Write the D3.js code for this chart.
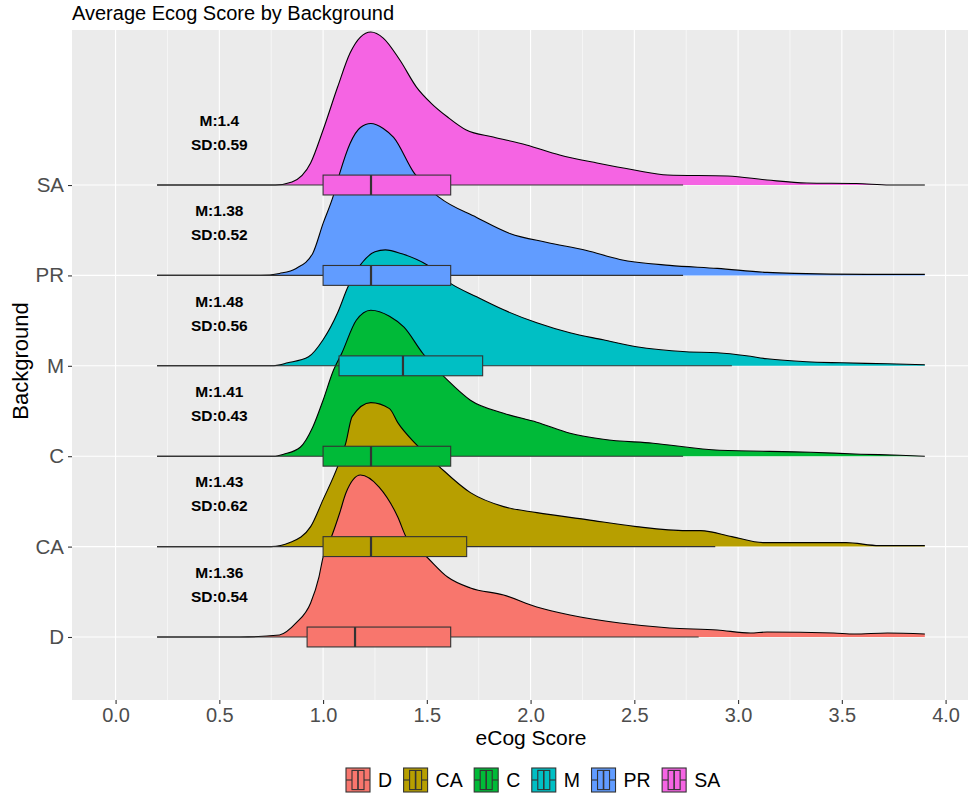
<!DOCTYPE html>
<html>
<head>
<meta charset="utf-8">
<script src="https://cdn.jsdelivr.net/npm/d3@7"></script>
<style>
  body { margin: 0; background: #ffffff; }
  text { font-family: "Liberation Sans", Arial, sans-serif; }
</style>
</head>
<body>
<svg id="chart" width="977" height="796"></svg>
<script>
// Groups, bottom row first
const categories = ["D", "CA", "C", "M", "PR", "SA"];
const fillColors = ["#F8766D", "#B79F00", "#00BA38", "#00BFC4", "#619CFF", "#F564E3"];
const meanLabels = ["M:1.36", "M:1.43", "M:1.41", "M:1.48", "M:1.38", "M:1.4"];
const sdLabels = ["SD:0.54", "SD:0.62", "SD:0.43", "SD:0.56", "SD:0.52", "SD:0.59"];

// Boxplot statistics
const boxQ1 = [0.923, 1.0, 1.0, 1.077, 1.0, 1.0];
const boxMedian = [1.154, 1.231, 1.231, 1.385, 1.231, 1.231];
const boxQ3 = [1.615, 1.692, 1.615, 1.769, 1.615, 1.615];
const whiskerLow = [0.2, 0.2, 0.2, 0.2, 0.2, 0.2];
const whiskerHigh = [2.81, 2.89, 2.735, 2.97, 2.735, 2.735];

// Density estimates (score grid, density)
const gridD = [0.2, 0.6, 0.79, 0.87, 0.94, 0.98, 1.0, 1.04, 1.08, 1.11, 1.18, 1.27, 1.36, 1.4, 1.5, 1.6, 1.71, 1.87, 2.03, 2.19, 2.43, 2.67, 2.9, 3.06, 3.14, 3.46, 3.56, 3.72, 3.9];
const densD = [0, 0, 0.02, 0.14, 0.34, 0.6, 0.8, 1.0, 1.24, 1.44, 1.62, 1.5, 1.2, 1.0, 0.8, 0.6, 0.49, 0.42, 0.3, 0.22, 0.14, 0.09, 0.07, 0.04, 0.05, 0.04, 0.03, 0.04, 0.03];

const gridCA = [0.2, 0.75, 0.84, 0.94, 1.0, 1.07, 1.11, 1.14, 1.23, 1.32, 1.36, 1.45, 1.56, 1.71, 1.87, 2.03, 2.27, 2.51, 2.75, 2.82, 2.97, 3.12, 3.52, 3.68, 3.9];
const densCA = [0, 0, 0.04, 0.2, 0.47, 0.8, 1.04, 1.3, 1.44, 1.38, 1.24, 1.02, 0.8, 0.54, 0.4, 0.34, 0.27, 0.2, 0.16, 0.16, 0.1, 0.04, 0.04, 0.01, 0.01];

const gridC = [0.2, 0.77, 0.81, 0.89, 0.95, 1.0, 1.05, 1.09, 1.16, 1.23, 1.32, 1.39, 1.48, 1.6, 1.71, 1.87, 2.03, 2.19, 2.35, 2.59, 2.91, 3.35, 3.59, 3.78, 3.9];
const densC = [0, 0, 0.02, 0.09, 0.29, 0.56, 0.86, 1.03, 1.36, 1.46, 1.4, 1.29, 1.03, 0.76, 0.56, 0.43, 0.34, 0.23, 0.17, 0.13, 0.06, 0.04, 0.02, 0.01, 0];

const gridM = [0.2, 0.75, 0.83, 0.93, 1.0, 1.07, 1.12, 1.18, 1.25, 1.3, 1.38, 1.5, 1.61, 1.74, 1.87, 2.03, 2.19, 2.35, 2.51, 2.75, 2.9, 3.04, 3.14, 3.33, 3.5, 3.72, 3.9];
const densM = [0, 0, 0.03, 0.09, 0.26, 0.53, 0.79, 1.01, 1.14, 1.16, 1.12, 1.01, 0.83, 0.69, 0.56, 0.43, 0.33, 0.26, 0.19, 0.14, 0.13, 0.1, 0.07, 0.04, 0.03, 0.02, 0.01];

const gridPR = [0.2, 0.7, 0.79, 0.87, 0.95, 1.0, 1.05, 1.08, 1.13, 1.18, 1.23, 1.29, 1.34, 1.44, 1.56, 1.74, 1.9, 2.08, 2.27, 2.43, 2.67, 2.9, 3.14, 3.27, 3.62, 3.9];
const densPR = [0, 0, 0.02, 0.07, 0.22, 0.52, 0.8, 1.02, 1.32, 1.48, 1.52, 1.47, 1.38, 1.02, 0.78, 0.58, 0.42, 0.33, 0.25, 0.16, 0.1, 0.07, 0.03, 0.02, 0.01, 0.01];

const gridSA = [0.2, 0.77, 0.85, 0.94, 1.0, 1.07, 1.13, 1.18, 1.23, 1.29, 1.37, 1.45, 1.52, 1.6, 1.69, 1.82, 1.98, 2.14, 2.32, 2.5, 2.66, 2.95, 3.14, 3.33, 3.57, 3.73, 3.9];
const densSA = [0, 0, 0.03, 0.22, 0.55, 0.98, 1.32, 1.48, 1.53, 1.47, 1.25, 0.98, 0.82, 0.68, 0.55, 0.48, 0.4, 0.3, 0.22, 0.15, 0.1, 0.09, 0.05, 0.02, 0.015, 0, 0];

const xTicks = [0, 0.5, 1, 1.5, 2, 2.5, 3, 3.5, 4];
const xMinorTicks = [0.25, 0.75, 1.25, 1.75, 2.25, 2.75, 3.25, 3.75];

const titleText = "Average Ecog Score by Background";
const xTitle = "eCog Score";
const yTitle = "Background";

// Ridge height multiplier (density units -> row units)
const ridgeScale = 1.106;

const grids = [gridD, gridCA, gridC, gridM, gridPR, gridSA];
const dens = [densD, densCA, densC, densM, densPR, densSA];

const svg = d3.select("#chart");
const panel = { left: 72, right: 968, top: 30, bottom: 700 };

const x = d3.scaleLinear().domain([-0.21, 4.108]).range([panel.left, panel.right]);
const rowIndex = d3.scalePoint().domain(categories).range([0, categories.length - 1]);
const y = d3.scaleLinear().domain([-0.697, 6.715]).range([panel.bottom, panel.top]);
const yCat = d3.scalePoint().domain(categories).range([y(0), y(categories.length - 1)]);

// Panel background and grid
svg.append("rect")
  .attr("x", panel.left).attr("y", panel.top)
  .attr("width", panel.right - panel.left).attr("height", panel.bottom - panel.top)
  .attr("fill", "#EBEBEB");

const grid = svg.append("g");
grid.selectAll("line.minor").data(xMinorTicks).join("line")
  .attr("x1", d => x(d)).attr("x2", d => x(d))
  .attr("y1", panel.top).attr("y2", panel.bottom)
  .attr("stroke", "#ffffff").attr("stroke-width", 0.55);
grid.selectAll("line.major").data(xTicks).join("line")
  .attr("x1", d => x(d)).attr("x2", d => x(d))
  .attr("y1", panel.top).attr("y2", panel.bottom)
  .attr("stroke", "#ffffff").attr("stroke-width", 1.1);
grid.selectAll("line.row").data(categories).join("line")
  .attr("x1", panel.left).attr("x2", panel.right)
  .attr("y1", d => yCat(d)).attr("y2", d => yCat(d))
  .attr("stroke", "#ffffff").attr("stroke-width", 1.1);

// Ridges: top row first so lower rows overlap
const plot = svg.append("g");
const order = d3.range(categories.length).reverse();
order.forEach(i => {
  const r = rowIndex(categories[i]);
  const pts = grids[i].map((g, k) => [g, dens[i][k]]);
  const area = d3.area()
    .x(d => x(d[0]))
    .y0(y(r))
    .y1(d => y(r + d[1] * ridgeScale))
    .curve(d3.curveMonotoneX);
  const line = d3.line()
    .x(d => x(d[0]))
    .y(d => y(r + d[1] * ridgeScale))
    .curve(d3.curveMonotoneX);
  plot.append("path").attr("d", area(pts)).attr("fill", fillColors[i]);
  plot.append("path").attr("d", line(pts))
    .attr("fill", "none").attr("stroke", "#000000").attr("stroke-width", 1.1);
});

// Boxplots drawn above all ridges
const boxHalf = 0.11;
const boxes = svg.append("g");
categories.forEach((c, i) => {
  const r = rowIndex(c);
  const g = boxes.append("g");
  g.append("line")
    .attr("x1", x(whiskerLow[i])).attr("x2", x(boxQ1[i]))
    .attr("y1", y(r)).attr("y2", y(r))
    .attr("stroke", "#333333").attr("stroke-width", 1.1);
  g.append("line")
    .attr("x1", x(boxQ3[i])).attr("x2", x(whiskerHigh[i]))
    .attr("y1", y(r)).attr("y2", y(r))
    .attr("stroke", "#333333").attr("stroke-width", 1.1);
  g.append("rect")
    .attr("x", x(boxQ1[i])).attr("y", y(r + boxHalf))
    .attr("width", x(boxQ3[i]) - x(boxQ1[i]))
    .attr("height", y(r - boxHalf) - y(r + boxHalf))
    .attr("fill", fillColors[i]).attr("stroke", "#333333").attr("stroke-width", 1.1);
  g.append("line")
    .attr("x1", x(boxMedian[i])).attr("x2", x(boxMedian[i]))
    .attr("y1", y(r + boxHalf)).attr("y2", y(r - boxHalf))
    .attr("stroke", "#333333").attr("stroke-width", 2.2);
});

// Mean / SD annotations
const notes = svg.append("g");
categories.forEach((c, i) => {
  const r = rowIndex(c);
  notes.append("text")
    .attr("x", x(0.5)).attr("y", y(r + 0.715))
    .attr("text-anchor", "middle").attr("dominant-baseline", "central")
    .attr("font-size", 15.5).attr("font-weight", "bold").attr("fill", "#000")
    .text(meanLabels[i]);
  notes.append("text")
    .attr("x", x(0.5)).attr("y", y(r + 0.45))
    .attr("text-anchor", "middle").attr("dominant-baseline", "central")
    .attr("font-size", 15.5).attr("font-weight", "bold").attr("fill", "#000")
    .text(sdLabels[i]);
});

// Axes
const xAxis = svg.append("g")
  .attr("transform", `translate(0,${panel.bottom})`)
  .call(d3.axisBottom(x).tickValues(xTicks).tickFormat(d3.format(".1f")).tickSize(4).tickPadding(4));
xAxis.select(".domain").remove();
xAxis.selectAll(".tick line").attr("stroke", "#333333").attr("stroke-width", 1.1);
xAxis.selectAll(".tick text").attr("font-size", 20).attr("fill", "#4D4D4D")
  .attr("font-family", "Liberation Sans, Arial, sans-serif");

const yAxis = svg.append("g")
  .attr("transform", `translate(${panel.left},0)`)
  .call(d3.axisLeft(yCat).tickSize(4).tickPadding(4));
yAxis.select(".domain").remove();
yAxis.selectAll(".tick line").attr("stroke", "#333333").attr("stroke-width", 1.1);
yAxis.selectAll(".tick text").attr("font-size", 20.5).attr("fill", "#4D4D4D")
  .attr("font-family", "Liberation Sans, Arial, sans-serif");

// Titles
svg.append("text").attr("x", panel.left).attr("y", 20)
  .attr("font-size", 20).attr("fill", "#000").text(titleText);
svg.append("text").attr("x", 531).attr("y", 745)
  .attr("text-anchor", "middle").attr("font-size", 21).attr("fill", "#000").text(xTitle);
svg.append("text")
  .attr("transform", `translate(28,${(panel.top + panel.bottom) / 2 - 4}) rotate(-90)`)
  .attr("text-anchor", "middle").attr("font-size", 22).attr("fill", "#000").text(yTitle);

// Legend
const legend = svg.append("g");
let lx = 346;
const keySize = 24, ly = 768;
categories.forEach((c, i) => {
  const k = legend.append("g").attr("transform", `translate(${lx},${ly})`);
  k.append("rect").attr("width", keySize).attr("height", keySize)
    .attr("fill", fillColors[i]).attr("stroke", "#333333").attr("stroke-width", 1.1);
  k.append("line").attr("x1", 0).attr("x2", keySize)
    .attr("y1", keySize / 2).attr("y2", keySize / 2)
    .attr("stroke", "#333333").attr("stroke-width", 1.1);
  k.append("rect").attr("x", keySize * 0.25).attr("y", keySize * 0.1)
    .attr("width", keySize * 0.5).attr("height", keySize * 0.8)
    .attr("fill", fillColors[i]).attr("stroke", "#333333").attr("stroke-width", 1.1);
  k.append("line").attr("x1", keySize / 2).attr("x2", keySize / 2)
    .attr("y1", keySize * 0.1).attr("y2", keySize * 0.9)
    .attr("stroke", "#333333").attr("stroke-width", 1.6);
  const t = legend.append("text").attr("x", lx + keySize + 8).attr("y", ly + keySize / 2)
    .attr("dominant-baseline", "central").attr("font-size", 19.5).attr("fill", "#000").text(c);
  lx += keySize + 8 + t.node().getComputedTextLength() + 11.5;
});
</script>
</body>
</html>
